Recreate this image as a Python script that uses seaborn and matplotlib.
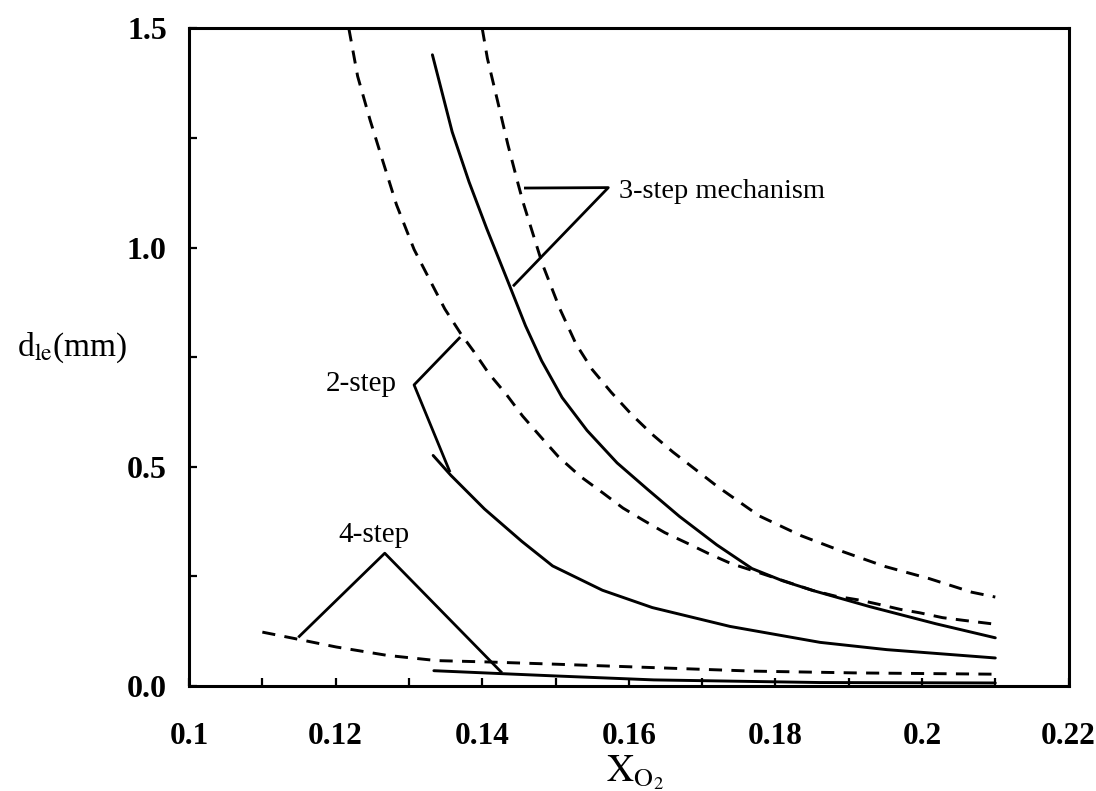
import matplotlib
matplotlib.use("Agg")
import matplotlib.pyplot as plt
import seaborn as sns
from matplotlib.ticker import FixedLocator, MultipleLocator

# Ignition distance d_le versus oxygen mole fraction, for the reduced mechanisms
x_3step_dash = [0.1400, 0.1407, 0.1420, 0.1435, 0.1449, 0.1456, 0.1482, 0.1506, 0.1528,
                0.1550, 0.1576, 0.1604, 0.1632, 0.1660, 0.1721, 0.1778, 0.1835, 0.1893,
                0.1949, 0.2010, 0.2068, 0.2100]
y_3step_dash = [1.50, 1.432, 1.341, 1.235, 1.145, 1.102, 0.963, 0.860, 0.780,
                0.722, 0.670, 0.619, 0.574, 0.534, 0.455, 0.388, 0.343, 0.306,
                0.273, 0.245, 0.214, 0.203]

x_3step_solid = [0.1332, 0.1359, 0.1382, 0.1406, 0.1435, 0.1459, 0.1481, 0.1509, 0.1543,
                 0.1584, 0.1626, 0.1669, 0.1720, 0.1768, 0.1810, 0.1851, 0.1929, 0.2019,
                 0.2100]
y_3step_solid = [1.44, 1.264, 1.150, 1.044, 0.923, 0.822, 0.742, 0.658, 0.583,
                 0.509, 0.448, 0.387, 0.322, 0.268, 0.240, 0.218, 0.181, 0.142,
                 0.110]

x_2step_dash = [0.1218, 0.1230, 0.1247, 0.1265, 0.1283, 0.1307, 0.1335, 0.1349, 0.1371,
                0.1389, 0.1409, 0.1433, 0.1455, 0.1479, 0.1504, 0.1534, 0.1565, 0.1592,
                0.1620, 0.1649, 0.1682, 0.1709, 0.1740, 0.1768, 0.1851, 0.1882, 0.1915,
                0.1942, 0.1970, 0.1997, 0.2028, 0.2056, 0.2100]
y_2step_dash = [1.50, 1.391, 1.291, 1.194, 1.098, 0.996, 0.905, 0.860, 0.803,
                0.762, 0.713, 0.665, 0.616, 0.570, 0.523, 0.478, 0.440, 0.406,
                0.378, 0.350, 0.324, 0.302, 0.279, 0.264, 0.218, 0.205, 0.196,
                0.186, 0.175, 0.167, 0.156, 0.150, 0.141]

x_2step_solid = [0.1333, 0.1357, 0.1403, 0.1454, 0.1496, 0.1564, 0.1632, 0.1738, 0.1861,
                 0.1952, 0.2100]
y_2step_solid = [0.526, 0.481, 0.404, 0.330, 0.274, 0.2185, 0.179, 0.136, 0.0996,
                 0.083, 0.064]

x_4step_dash = [0.1100, 0.1139, 0.1201, 0.1270, 0.1338, 0.1406, 0.1497, 0.1634, 0.1770,
                0.1907, 0.2100]
y_4step_dash = [0.123, 0.110, 0.089, 0.070, 0.058, 0.055, 0.050, 0.042, 0.034,
                0.030, 0.027]

x_4step_solid = [0.1334, 0.1430, 0.1500, 0.1634, 0.1860, 0.2100]
y_4step_solid = [0.035, 0.028, 0.023, 0.014, 0.008, 0.007]

x_ticks = [0.10, 0.12, 0.14, 0.16, 0.18, 0.20, 0.22]
x_tick_labels = ["0.1", "0.12", "0.14", "0.16", "0.18", "0.2", "0.22"]
y_ticks = [0.0, 0.5, 1.0, 1.5]
y_tick_labels = ["0.0", "0.5", "1.0", "1.5"]

sns.set_theme(style="ticks")
plt.rcParams["font.family"] = ["Liberation Serif", "DejaVu Serif"]
plt.rcParams["mathtext.fontset"] = "stix"
plt.rcParams["text.color"] = "black"
plt.rcParams["axes.labelcolor"] = "black"
plt.rcParams["xtick.color"] = "black"
plt.rcParams["ytick.color"] = "black"

fig = plt.figure(figsize=(10.96, 7.91), dpi=100)
ax = fig.add_axes([0.1725, 0.1327, 0.8025, 0.8313])

dash = (0, (4.5, 3.2))
curves = [
    (x_3step_dash, y_3step_dash, dash),
    (x_3step_solid, y_3step_solid, "-"),
    (x_2step_dash, y_2step_dash, dash),
    (x_2step_solid, y_2step_solid, "-"),
    (x_4step_dash, y_4step_dash, dash),
    (x_4step_solid, y_4step_solid, "-"),
]
for xs, ys, ls in curves:
    sns.lineplot(x=xs, y=ys, ax=ax, color="black", linewidth=2.1, linestyle=ls,
                 estimator=None, sort=False, legend=False)

# Leader lines tying each label to its pair of curves
leader_kw = dict(color="black", linewidth=2.0, solid_capstyle="butt")
ax.plot([0.1457, 0.1572, 0.1442], [1.136, 1.137, 0.912], **leader_kw)
ax.plot([0.1370, 0.1307, 0.1356], [0.796, 0.687, 0.488], **leader_kw)
ax.plot([0.1149, 0.1267, 0.1427], [0.111, 0.303, 0.030], **leader_kw)

ax.text(0.1587, 1.128, "3-step mechanism", fontsize=20.5, ha="left", va="center")
ax.text(0.1283, 0.690, "2-step", fontsize=21, ha="right", va="center")
ax.text(0.1252, 0.345, "4-step", fontsize=21, ha="center", va="center")

ax.set_xlim(0.10, 0.22)
ax.set_ylim(0.0, 1.5)
ax.xaxis.set_major_locator(FixedLocator(x_ticks))
ax.set_xticklabels(x_tick_labels)
ax.xaxis.set_minor_locator(MultipleLocator(0.01))
ax.yaxis.set_major_locator(FixedLocator(y_ticks))
ax.set_yticklabels(y_tick_labels)
ax.yaxis.set_minor_locator(MultipleLocator(0.25))

ax.tick_params(which="both", direction="in", length=6, width=1.6, color="black",
               top=False, right=False)
ax.tick_params(axis="x", which="major", pad=26, labelsize=22.5, labelcolor="black")
ax.tick_params(axis="y", which="major", pad=16, labelsize=23, labelcolor="black")
for lbl in ax.get_xticklabels() + ax.get_yticklabels():
    lbl.set_fontweight("bold")

for side in ["left", "right", "top", "bottom"]:
    ax.spines[side].set_visible(True)
    ax.spines[side].set_linewidth(2.2)
    ax.spines[side].set_color("black")

ax.set_ylabel(r"d$_{\mathrm{le}}$(mm)", rotation=0, fontsize=24, ha="right", va="center")
ax.yaxis.set_label_coords(-0.07, 0.515)
ax.set_xlabel(r"$\mathrm{X}_{\mathrm{O}_2}$", fontsize=27, va="top")
ax.xaxis.set_label_coords(0.507, -0.103)

fig.savefig("out.png", dpi=100, facecolor="white")
